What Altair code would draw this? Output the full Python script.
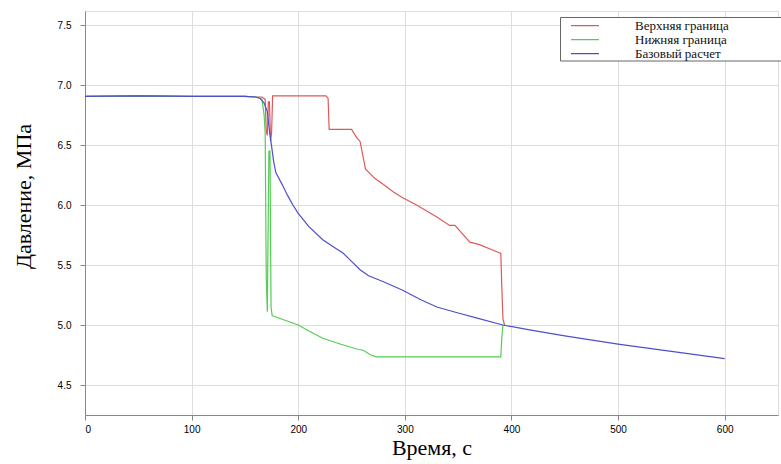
import altair as alt
import pandas as pd

series_names = ["Верхняя граница", "Нижняя граница", "Базовый расчет"]
series_colors = ["#dc5a5a", "#55cc55", "#4f4fc8"]

base_t = [0, 50, 100, 150, 160, 164, 168, 171, 173, 175, 177, 179, 185, 190, 195,
          200, 210, 223, 235, 242, 250, 258, 266, 280, 298, 315, 330, 350, 367,
          392, 417, 450, 500, 550, 600]
base_p = [6.905, 6.91, 6.905, 6.905, 6.9, 6.89, 6.85, 6.78, 6.62, 6.49, 6.36, 6.27,
          6.17, 6.08, 6.0, 5.93, 5.82, 5.71, 5.64, 5.60, 5.53, 5.46, 5.41, 5.36,
          5.29, 5.21, 5.15, 5.10, 5.06, 5.00, 4.96, 4.91, 4.84, 4.78, 4.72]

upper_t = [0, 50, 100, 150, 160, 164, 166, 169, 170, 171, 172, 173, 174, 175, 176,
           226, 228, 229, 250, 255, 258, 262, 263, 272, 280, 289, 298, 311, 330,
           342, 347, 361, 370, 389, 390, 391, 392, 393.5]
upper_p = [6.905, 6.91, 6.905, 6.905, 6.9, 6.9, 6.9, 6.88, 6.62, 6.58, 6.86, 6.86,
           6.53, 6.6, 6.91, 6.91, 6.89, 6.63, 6.63, 6.56, 6.53, 6.35, 6.30, 6.22,
           6.17, 6.11, 6.06, 6.00, 5.90, 5.83, 5.83, 5.69, 5.67, 5.60, 5.60, 5.30,
           5.05, 5.00]

lower_t = [0, 50, 100, 150, 160, 164, 166, 168, 169, 170, 171, 172.5, 173.5, 174.5,
           175.5, 176.5, 200, 210, 223, 240, 255, 261, 268, 273.5, 390, 391, 392]
lower_p = [6.905, 6.91, 6.905, 6.905, 6.9, 6.89, 6.88, 6.75, 6.6, 5.4, 5.11, 6.45,
           6.45, 5.15, 5.08, 5.075, 5.0, 4.95, 4.89, 4.84, 4.80, 4.79, 4.75, 4.735,
           4.735, 4.9, 5.0]

x_ticks = [0, 100, 200, 300, 400, 500, 600]
y_ticks = [4.5, 5, 5.5, 6, 6.5, 7, 7.5]

rows = []
for name, ts, ps in [(series_names[0], upper_t, upper_p),
                     (series_names[1], lower_t, lower_p),
                     (series_names[2], base_t, base_p)]:
    for i, (t, p) in enumerate(zip(ts, ps)):
        rows.append({"series": name, "t": t, "p": p, "i": i})
df = pd.DataFrame(rows)

title_font = dict(titleFont="Liberation Serif", titleFontSize=22,
                  titleFontWeight="normal", titleColor="#000")

lines = alt.Chart(df).mark_line(strokeWidth=1.2, clip=True).encode(
    x=alt.X("t:Q", scale=alt.Scale(domain=[0, 650], nice=False),
            axis=alt.Axis(values=x_ticks, title="Время, с", grid=True,
                          labelPadding=4, titlePadding=3, **title_font)),
    y=alt.Y("p:Q", scale=alt.Scale(domain=[4.25, 7.6167], nice=False, zero=False),
            axis=alt.Axis(values=y_ticks, title="Давление, МПа", grid=True,
                          labelPadding=9, titleX=-62, titleY=185,
                          titleAlign="center", titleBaseline="middle", titleAngle=-90,
                          **title_font)),
    color=alt.Color("series:N",
                    scale=alt.Scale(domain=series_names, range=series_colors),
                    legend=alt.Legend(title=None, orient="none", legendX=475, legendY=6,
                                      symbolType="M-0.6,0H0.8", symbolSize=1600,
                                      symbolStrokeWidth=1.2, clipHeight=13.3,
                                      rowPadding=0, padding=2, labelOffset=31,
                                      labelFont="Liberation Serif", labelFontSize=13,
                                      labelColor="#111", labelLimit=400)),
    order="i:Q",
)

legend_box = alt.Chart(df).mark_rect(
    fill="white", stroke="#666", strokeWidth=1, clip=False
).encode(
    x=alt.value(475.5), x2=alt.value(702), y=alt.value(6.5), y2=alt.value(50)
).transform_filter("datum.i == 0 && datum.series == 'Базовый расчет'")

chart = alt.layer(legend_box, lines).properties(
    width=693, height=404,
    autosize=alt.AutoSizeParams(type="none"),
    padding={"left": 85, "top": 11, "right": 3, "bottom": 49},
).configure_view(
    stroke="#808080", strokeWidth=1
).configure_axis(
    ticks=False, domain=False,
    gridColor="#a8a8a8", gridDash=[1, 2], gridWidth=1,
    labelFont="Liberation Sans", labelFontSize=11.5, labelColor="#444",
).configure_legend(
    labelFont="Liberation Serif", labelFontSize=13, labelColor="#111"
).configure(background="white")

chart.save("out.html", embed_options={"renderer": "svg", "actions": False})
